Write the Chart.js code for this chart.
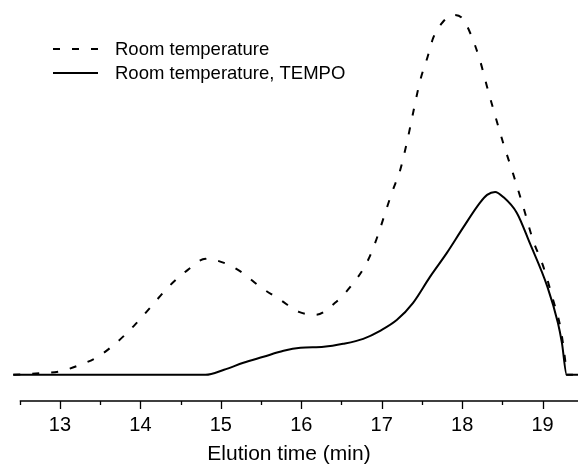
<!DOCTYPE html>
<html>
<head>
<meta charset="utf-8">
<script src="https://cdn.jsdelivr.net/npm/chart.js@4/dist/chart.umd.min.js"></script>
<style>
  html, body { margin: 0; padding: 0; background: #fff; }
  #wrap { width: 578px; height: 464px; }
</style>
</head>
<body>
<div id="wrap"><canvas id="myChart" width="578" height="464"></canvas></div>
<script>
// elution time (min) and detector signal (arbitrary units)
const roomTime = [12.42, 12.76, 12.99, 13.22, 13.47, 13.70, 13.92, 14.13, 14.35, 14.59, 14.81,
    15.04, 15.27, 15.49, 15.74, 15.97, 16.18, 16.42, 16.65, 16.80, 16.90, 17.13, 17.23, 17.32,
    17.39, 17.48, 17.57, 17.64, 17.76, 17.89, 18.00, 18.10, 18.22, 18.31, 18.39, 18.51, 18.63,
    18.76, 18.88, 19.01, 19.13, 19.22, 19.28, 19.30, 19.44];
const roomSignal = [0, 1.7, 3.3, 9, 18, 32, 49, 68, 88, 105, 116,
    112, 102, 88, 75, 63, 60, 72, 92, 110, 128, 183, 205, 235,
    262, 295, 318, 337, 353, 360, 357, 342, 315, 288, 265, 232, 202,
    168, 135, 108, 75, 48, 15, 0, 0];

const tempoTime = [12.42, 14.81, 15.04, 15.28, 15.53, 15.78, 15.99, 16.28, 16.52, 16.77, 16.98,
    17.19, 17.39, 17.60, 17.81, 18.01, 18.22, 18.31, 18.41, 18.51, 18.68, 18.84, 19.06, 19.19,
    19.24, 19.30, 19.44];
const tempoSignal = [0, 0, 5, 12, 18, 24, 27, 28, 31, 36, 44,
    55, 72, 98, 122, 147, 172, 180, 183, 178, 162, 132, 88, 52,
    32, 0, 0];

const majorTicks = [13, 14, 15, 16, 17, 18, 19];
const minorTicks = [12.5, 13.5, 14.5, 15.5, 16.5, 17.5, 18.5];

const ctx = document.getElementById('myChart').getContext('2d');
Chart.defaults.font.family = '"Liberation Sans", Arial, sans-serif';
Chart.defaults.color = '#000';

// axis line + tick marks (minor ones shorter) and the in-plot legend
const axisAndLegend = {
    id: 'axisAndLegend',
    afterDraw(chart) {
        const c = chart.ctx;
        const xs = chart.scales.x;
        const y0 = Math.round(chart.chartArea.bottom);
        c.save();
        c.strokeStyle = '#000';
        c.lineWidth = 1.3;
        c.beginPath();
        c.moveTo(xs.getPixelForValue(12.5), y0);
        c.lineTo(chart.chartArea.right, y0);
        majorTicks.forEach(t => {
            const px = Math.round(xs.getPixelForValue(t)) + 0.5;
            c.moveTo(px, y0);
            c.lineTo(px, y0 + 8);
        });
        minorTicks.forEach(t => {
            const px = Math.round(xs.getPixelForValue(t)) + 0.5;
            c.moveTo(px, y0);
            c.lineTo(px, y0 + 4);
        });
        c.stroke();

        c.font = '18.5px "Liberation Sans", Arial, sans-serif';
        c.textBaseline = 'middle';
        c.fillStyle = '#000';
        chart.data.datasets.forEach((ds, i) => {
            const ly = 49 + i * 24;
            c.beginPath();
            c.lineWidth = 2;
            c.setLineDash(ds.borderDash || []);
            c.moveTo(53, ly);
            c.lineTo(98, ly);
            c.stroke();
            c.setLineDash([]);
            c.fillText(ds.label, 115, ly + 1);
        });
        c.restore();
    }
};

const myChart = new Chart(ctx, {
    type: 'line',
    data: {
        datasets: [{
            label: 'Room temperature',
            data: roomTime.map((t, i) => ({ x: t, y: roomSignal[i] })),
            borderColor: '#000',
            borderWidth: 2,
            borderDash: [7, 12],
            pointRadius: 0,
            cubicInterpolationMode: 'monotone'
        }, {
            label: 'Room temperature, TEMPO',
            data: tempoTime.map((t, i) => ({ x: t, y: tempoSignal[i] })),
            borderColor: '#000',
            borderWidth: 2,
            pointRadius: 0,
            cubicInterpolationMode: 'monotone'
        }]
    },
    options: {
        responsive: false,
        animation: false,
        layout: { padding: 0 },
        plugins: { legend: { display: false }, tooltip: { enabled: false } },
        scales: {
            x: {
                type: 'linear',
                min: 12.255,
                max: 19.44,
                afterBuildTicks: axis => { axis.ticks = majorTicks.map(v => ({ value: v })); },
                grid: { display: false, drawTicks: false },
                border: { display: false },
                ticks: { font: { size: 20 }, padding: 13, maxRotation: 0, autoSkip: false },
                title: { display: true, text: 'Elution time (min)', font: { size: 21 }, padding: { top: -9, bottom: -3 } }
            },
            y: {
                display: false,
                min: -26,
                max: 375
            }
        }
    },
    plugins: [axisAndLegend]
});
</script>
</body>
</html>
